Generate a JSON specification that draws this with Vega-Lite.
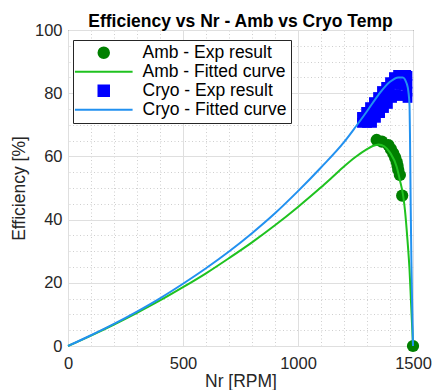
{
  "$schema": "https://vega.github.io/schema/vega-lite/v6.json",
  "width": 345,
  "height": 316,
  "padding": {"left": 10, "top": 12, "right": 0, "bottom": 0},
  "background": "white",
  "title": {"text": "Efficiency vs Nr - Amb vs Cryo Temp", "font": "Liberation Sans", "fontSize": 17.5, "fontWeight": "bold", "color": "#000000", "offset": -8, "anchor": "middle"},
  "config": {"view": {"stroke": "#262626", "strokeWidth": 1}, "font": "Liberation Sans"},
  "resolve": {"axis": {"x": "independent", "y": "independent"}},
  "datasets": {
    "exp": [
      {"series": "Cryo - Exp result", "rpm": 1278, "eff": 72.5},
      {"series": "Cryo - Exp result", "rpm": 1296, "eff": 74.1},
      {"series": "Cryo - Exp result", "rpm": 1313, "eff": 75.6},
      {"series": "Cryo - Exp result", "rpm": 1330, "eff": 77.2},
      {"series": "Cryo - Exp result", "rpm": 1348, "eff": 78.8},
      {"series": "Cryo - Exp result", "rpm": 1365, "eff": 80.7},
      {"series": "Cryo - Exp result", "rpm": 1383, "eff": 82.0},
      {"series": "Cryo - Exp result", "rpm": 1400, "eff": 83.5},
      {"series": "Cryo - Exp result", "rpm": 1417, "eff": 85.1},
      {"series": "Cryo - Exp result", "rpm": 1435, "eff": 85.8},
      {"series": "Cryo - Exp result", "rpm": 1452, "eff": 85.8},
      {"series": "Cryo - Exp result", "rpm": 1470, "eff": 85.8},
      {"series": "Cryo - Exp result", "rpm": 1313, "eff": 73.1},
      {"series": "Cryo - Exp result", "rpm": 1335, "eff": 74.7},
      {"series": "Cryo - Exp result", "rpm": 1357, "eff": 76.7},
      {"series": "Cryo - Exp result", "rpm": 1378, "eff": 78.8},
      {"series": "Cryo - Exp result", "rpm": 1400, "eff": 80.7},
      {"series": "Cryo - Exp result", "rpm": 1422, "eff": 82.9},
      {"series": "Cryo - Exp result", "rpm": 1444, "eff": 82.6},
      {"series": "Cryo - Exp result", "rpm": 1461, "eff": 82.6},
      {"series": "Cryo - Exp result", "rpm": 1278, "eff": 70.6},
      {"series": "Cryo - Exp result", "rpm": 1300, "eff": 70.6},
      {"series": "Cryo - Exp result", "rpm": 1322, "eff": 70.6},
      {"series": "Cryo - Exp result", "rpm": 1339, "eff": 72.2},
      {"series": "Cryo - Exp result", "rpm": 1357, "eff": 73.7},
      {"series": "Cryo - Exp result", "rpm": 1374, "eff": 75.3},
      {"series": "Cryo - Exp result", "rpm": 1391, "eff": 76.6},
      {"series": "Cryo - Exp result", "rpm": 1409, "eff": 78.5},
      {"series": "Cryo - Exp result", "rpm": 1426, "eff": 79.7},
      {"series": "Cryo - Exp result", "rpm": 1444, "eff": 79.1},
      {"series": "Cryo - Exp result", "rpm": 1461, "eff": 79.4},
      {"series": "Cryo - Exp result", "rpm": 1476, "eff": 85.5},
      {"series": "Cryo - Exp result", "rpm": 1476, "eff": 83.0},
      {"series": "Cryo - Exp result", "rpm": 1476, "eff": 80.5},
      {"series": "Cryo - Exp result", "rpm": 1476, "eff": 78.5},
      {"series": "Amb - Exp result", "rpm": 1342, "eff": 65.2},
      {"series": "Amb - Exp result", "rpm": 1365, "eff": 64.7},
      {"series": "Amb - Exp result", "rpm": 1393, "eff": 63.6},
      {"series": "Amb - Exp result", "rpm": 1404, "eff": 62.3},
      {"series": "Amb - Exp result", "rpm": 1414, "eff": 61.0},
      {"series": "Amb - Exp result", "rpm": 1422, "eff": 59.7},
      {"series": "Amb - Exp result", "rpm": 1429, "eff": 58.3},
      {"series": "Amb - Exp result", "rpm": 1433, "eff": 57.0},
      {"series": "Amb - Exp result", "rpm": 1436, "eff": 55.7},
      {"series": "Amb - Exp result", "rpm": 1443, "eff": 54.1},
      {"series": "Amb - Exp result", "rpm": 1453, "eff": 47.6},
      {"series": "Amb - Exp result", "rpm": 1500, "eff": 0}
    ],
    "fit": [
      {"series": "Amb - Fitted curve", "rpm": 0, "eff": 0},
      {"series": "Amb - Fitted curve", "rpm": 100, "eff": 3.3},
      {"series": "Amb - Fitted curve", "rpm": 200, "eff": 6.8},
      {"series": "Amb - Fitted curve", "rpm": 300, "eff": 10.5},
      {"series": "Amb - Fitted curve", "rpm": 400, "eff": 14.4},
      {"series": "Amb - Fitted curve", "rpm": 500, "eff": 18.6},
      {"series": "Amb - Fitted curve", "rpm": 600, "eff": 23.0},
      {"series": "Amb - Fitted curve", "rpm": 700, "eff": 27.8},
      {"series": "Amb - Fitted curve", "rpm": 800, "eff": 32.8},
      {"series": "Amb - Fitted curve", "rpm": 900, "eff": 38.2},
      {"series": "Amb - Fitted curve", "rpm": 1000, "eff": 44.0},
      {"series": "Amb - Fitted curve", "rpm": 1100, "eff": 50.2},
      {"series": "Amb - Fitted curve", "rpm": 1150, "eff": 53.5},
      {"series": "Amb - Fitted curve", "rpm": 1200, "eff": 56.8},
      {"series": "Amb - Fitted curve", "rpm": 1250, "eff": 59.8},
      {"series": "Amb - Fitted curve", "rpm": 1300, "eff": 62.3},
      {"series": "Amb - Fitted curve", "rpm": 1325, "eff": 63.3},
      {"series": "Amb - Fitted curve", "rpm": 1350, "eff": 63.8},
      {"series": "Amb - Fitted curve", "rpm": 1375, "eff": 63.2},
      {"series": "Amb - Fitted curve", "rpm": 1400, "eff": 61.2},
      {"series": "Amb - Fitted curve", "rpm": 1429, "eff": 56.7},
      {"series": "Amb - Fitted curve", "rpm": 1443, "eff": 52.5},
      {"series": "Amb - Fitted curve", "rpm": 1458, "eff": 47.2},
      {"series": "Amb - Fitted curve", "rpm": 1465, "eff": 43.0},
      {"series": "Amb - Fitted curve", "rpm": 1476, "eff": 33.5},
      {"series": "Amb - Fitted curve", "rpm": 1485, "eff": 24.0},
      {"series": "Amb - Fitted curve", "rpm": 1491, "eff": 14.6},
      {"series": "Amb - Fitted curve", "rpm": 1497, "eff": 5.0},
      {"series": "Amb - Fitted curve", "rpm": 1500, "eff": 0},
      {"series": "Cryo - Fitted curve", "rpm": 0, "eff": 0},
      {"series": "Cryo - Fitted curve", "rpm": 100, "eff": 3.4},
      {"series": "Cryo - Fitted curve", "rpm": 200, "eff": 7.0},
      {"series": "Cryo - Fitted curve", "rpm": 300, "eff": 10.9},
      {"series": "Cryo - Fitted curve", "rpm": 400, "eff": 15.1},
      {"series": "Cryo - Fitted curve", "rpm": 500, "eff": 19.7},
      {"series": "Cryo - Fitted curve", "rpm": 600, "eff": 24.6},
      {"series": "Cryo - Fitted curve", "rpm": 700, "eff": 29.9},
      {"series": "Cryo - Fitted curve", "rpm": 800, "eff": 35.7},
      {"series": "Cryo - Fitted curve", "rpm": 900, "eff": 42.0},
      {"series": "Cryo - Fitted curve", "rpm": 1000, "eff": 49.0},
      {"series": "Cryo - Fitted curve", "rpm": 1100, "eff": 56.5},
      {"series": "Cryo - Fitted curve", "rpm": 1200, "eff": 64.5},
      {"series": "Cryo - Fitted curve", "rpm": 1250, "eff": 69.3},
      {"series": "Cryo - Fitted curve", "rpm": 1300, "eff": 74.3},
      {"series": "Cryo - Fitted curve", "rpm": 1350, "eff": 79.5},
      {"series": "Cryo - Fitted curve", "rpm": 1400, "eff": 83.6},
      {"series": "Cryo - Fitted curve", "rpm": 1436, "eff": 85.0},
      {"series": "Cryo - Fitted curve", "rpm": 1455, "eff": 85.0},
      {"series": "Cryo - Fitted curve", "rpm": 1473, "eff": 83.0},
      {"series": "Cryo - Fitted curve", "rpm": 1480, "eff": 80.5},
      {"series": "Cryo - Fitted curve", "rpm": 1485, "eff": 76.0},
      {"series": "Cryo - Fitted curve", "rpm": 1487, "eff": 66.0},
      {"series": "Cryo - Fitted curve", "rpm": 1488.5, "eff": 55.0},
      {"series": "Cryo - Fitted curve", "rpm": 1490, "eff": 44.0},
      {"series": "Cryo - Fitted curve", "rpm": 1493, "eff": 27.0},
      {"series": "Cryo - Fitted curve", "rpm": 1496, "eff": 14.0},
      {"series": "Cryo - Fitted curve", "rpm": 1500, "eff": 0}
    ]
  },
  "layer": [
    {
      "data": {"name": "exp"},
      "mark": {"type": "point", "filled": true, "opacity": 1},
      "encoding": {
        "x": {"field": "rpm", "type": "quantitative", "scale": {"domain": [0, 1500], "nice": false},
          "axis": {"title": "Nr [RPM]", "orient": "bottom", "values": [0, 500, 1000, 1500], "format": "d",
            "ticks": false, "domain": false, "grid": true, "gridColor": "#DFDFDF",
            "labelColor": "#262626", "labelFont": "Liberation Sans", "labelFontSize": 16.5, "labelPadding": 9, "labelFlush": false, "labelOverlap": false,
            "titleColor": "#262626", "titleFont": "Liberation Sans", "titleFontSize": 17.5, "titleFontWeight": "normal", "titlePadding": 1}},
        "y": {"field": "eff", "type": "quantitative", "scale": {"domain": [0, 100], "nice": false},
          "axis": {"title": "Efficiency [%]", "orient": "left", "values": [0, 20, 40, 60, 80, 100],
            "ticks": false, "domain": false, "grid": true, "gridColor": "#DFDFDF",
            "labelColor": "#262626", "labelFont": "Liberation Sans", "labelFontSize": 16.5, "labelPadding": 6, "labelOverlap": false,
            "titleColor": "#262626", "titleFont": "Liberation Sans", "titleFontSize": 17.5, "titleFontWeight": "normal", "titlePadding": 6}},
        "color": {"field": "series", "type": "nominal",
          "scale": {"domain": ["Amb - Exp result", "Amb - Fitted curve", "Cryo - Exp result", "Cryo - Fitted curve"], "range": ["#008000", "#1FC21F", "#0000FF", "#2291F0"]},
          "legend": {"title": null, "orient": "none", "legendX": 5, "legendY": 10,
            "strokeColor": "#262626", "fillColor": "white", "padding": 4,
            "labelFont": "Liberation Sans", "labelFontSize": 17.5, "labelColor": "#000000", "labelLimit": 300,
            "symbolSize": 110, "symbolStrokeWidth": 2, "symbolOffset": 18, "labelOffset": 30, "rowPadding": 0}},
        "shape": {"field": "series", "type": "nominal",
          "scale": {"domain": ["Amb - Exp result", "Amb - Fitted curve", "Cryo - Exp result", "Cryo - Fitted curve"], "range": ["circle", "M-5.5,0H5.5", "square", "M-5.5,0H5.5"]},
          "legend": {"title": null, "orient": "none", "legendX": 5, "legendY": 10,
            "strokeColor": "#262626", "fillColor": "white", "padding": 4,
            "labelFont": "Liberation Sans", "labelFontSize": 17.5, "labelColor": "#000000", "labelLimit": 300,
            "symbolSize": 110, "symbolStrokeWidth": 2, "symbolOffset": 18, "labelOffset": 30, "rowPadding": 0}},
        "size": {"field": "series", "type": "nominal", "scale": {"domain": ["Amb - Exp result", "Cryo - Exp result"], "range": [150, 95]}, "legend": null}
      }
    },
    {
      "data": {"name": "fit"},
      "mark": {"type": "line", "strokeWidth": 2, "interpolate": "monotone"},
      "encoding": {
        "x": {"field": "rpm", "type": "quantitative",
          "axis": {"orient": "top", "title": null, "values": [100,200,300,400,600,700,800,900,1100,1200,1300,1400], "labels": false, "ticks": false, "domain": false,
            "grid": true, "gridColor": "#CFCFCF", "gridDash": [1, 2.5], "minExtent": 0, "maxExtent": 0}},
        "y": {"field": "eff", "type": "quantitative",
          "axis": {"orient": "right", "title": null, "values": [5,10,15,25,30,35,45,50,55,65,70,75,85,90,95], "labels": false, "ticks": false, "domain": false,
            "grid": true, "gridColor": "#CFCFCF", "gridDash": [1, 2.5], "minExtent": 0, "maxExtent": 0}},
        "color": {"field": "series", "type": "nominal"}
      }
    }
  ]
}
